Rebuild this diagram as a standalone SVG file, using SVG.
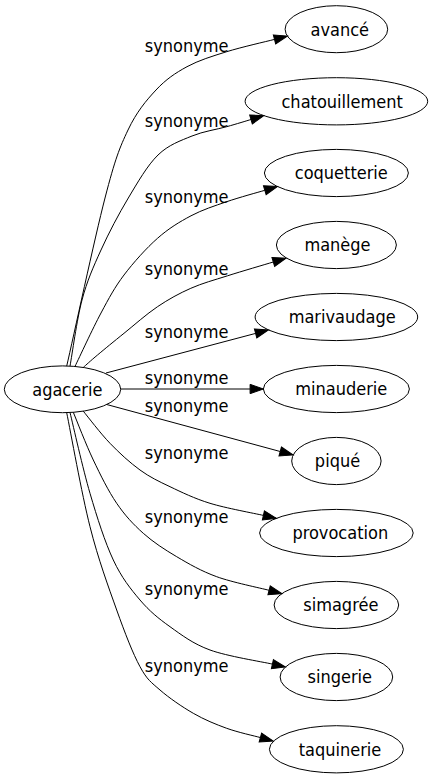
<svg xmlns="http://www.w3.org/2000/svg" width="433" height="779" viewBox="0 0 433 779">
<style>
  .node ellipse { fill: none; stroke: #000; stroke-width: 1; }
  .node text { font-family: 'DejaVu Sans Condensed', 'DejaVu Sans', sans-serif; font-stretch: condensed; font-size: 18px; fill: #000; text-anchor: middle; }
  .edges path { fill: none; stroke: #000; stroke-width: 1; marker-end: url(#arrow); }
  .edges text { font-family: 'DejaVu Sans Condensed', 'DejaVu Sans', sans-serif; font-stretch: condensed; font-size: 18px; fill: #000; text-anchor: middle; }
</style>
<defs>
  <marker id="arrow" markerUnits="userSpaceOnUse" markerWidth="14" markerHeight="10" viewBox="0 0 14 10" refX="0.5" refY="5" orient="auto" overflow="visible">
    <path d="M0.5,0.35 L13.8,5 L0.5,9.65 z" fill="#000" stroke="#000" stroke-width="1"/>
  </marker>
</defs>
<rect width="433" height="779" fill="#fff"/>
<g id="edges" class="edges">
  <path d="M66.7,366.1 C73.08,338.58 94.78,237.45 105,198 C115.22,158.55 119.5,148 128,130 C136.5,112 146.17,100.55 156,90 C165.83,79.45 175.22,73.08 187,66.7 C198.78,60.32 212.12,56.25 226.7,51.7 C241.28,47.15 266.53,41.45 274.5,39.4"/>
  <text x="186.7" y="51.7">synonyme</text>
  <path d="M70,366.1 C72,355.4 76.83,319.42 82,300 C87.17,280.58 93.28,267 101,250 C108.72,233 118.8,213.83 128.3,198 C137.8,182.17 147.38,165.33 158,155 C168.62,144.67 180.55,140.72 192,136 C203.45,131.28 216.87,129.45 226.7,126.7 C236.53,123.95 246.95,120.7 251,119.5"/>
  <text x="186.7" y="127.3">synonyme</text>
  <path d="M75,366.4 C79.33,357.5 92.83,328.23 101,313 C109.17,297.77 114.58,287.45 124,275 C133.42,262.55 146.33,248.17 157.5,238.3 C168.67,228.43 179.47,221.9 191,215.8 C202.53,209.7 214.4,205.95 226.7,201.7 C239,197.45 258.45,192.2 264.8,190.3"/>
  <text x="186.7" y="203.3">synonyme</text>
  <path d="M83.3,367.4 C85.67,365.33 90.72,360.68 97.5,355 C104.28,349.32 114,341.35 124,333.3 C134,325.25 146.37,314.2 157.5,306.7 C168.63,299.2 179.13,293.45 190.8,288.3 C202.47,283.15 213.75,280.18 227.5,275.8 C241.25,271.42 265.67,264.3 273.3,262"/>
  <text x="186.7" y="275">synonyme</text>
  <path d="M106,373 L255.6,333.4"/>
  <text x="186.7" y="337.5">synonyme</text>
  <path d="M120.7,389 L250.1,389"/>
  <text x="186.7" y="384.3">synonyme</text>
  <path d="M106.7,404.5 L280.2,451.5"/>
  <text x="186.7" y="412">synonyme</text>
  <path d="M83.3,411.2 C87.75,416.55 100.55,433.5 110,443.3 C119.45,453.1 130,462.77 140,470 C150,477.23 158.33,481.15 170,486.7 C181.67,492.25 194.43,498.52 210,503.3 C225.57,508.08 254.5,513.38 263.4,515.4"/>
  <text x="186.7" y="458.7">synonyme</text>
  <path d="M73.3,412.3 C76.63,420.25 86.07,444.83 93.3,460 C100.53,475.17 108.37,491.08 116.7,503.3 C125.03,515.52 133.3,524.4 143.3,533.3 C153.3,542.2 164.47,549.47 176.7,556.7 C188.93,563.93 201.3,571.1 216.7,576.7 C232.1,582.3 260.37,588.03 269.1,590.3"/>
  <text x="186.7" y="523.3">synonyme</text>
  <path d="M70,412.5 C73.33,425.97 82.78,468.72 90,493.3 C97.22,517.88 104.97,542.22 113.3,560 C121.63,577.78 130.55,588.88 140,600 C149.45,611.12 158.33,618.37 170,626.7 C181.67,635.03 192.93,643.77 210,650 C227.07,656.23 262,661.75 272.4,664.1"/>
  <text x="186.7" y="595">synonyme</text>
  <path d="M66.7,412.7 C70.58,431.7 81.67,493.82 90,526.7 C98.33,559.58 108.37,586.67 116.7,610 C125.03,633.33 132.78,653.37 140,666.7 C147.22,680.03 151.12,682.23 160,690 C168.88,697.77 182.18,706.92 193.3,713.3 C204.42,719.68 215.52,724.26 226.7,728.3 C237.88,732.34 254.78,736.01 260.4,737.55"/>
  <text x="186.7" y="671.7">synonyme</text>
</g>
<g id="node-agacerie" class="node">
  <ellipse cx="62.5" cy="389.3" rx="58.2" ry="23.4"/>
  <text x="67.3" y="395.6">agacerie</text>
</g>
<g id="node-avance" class="node">
  <ellipse cx="336.4" cy="29.2" rx="51.3" ry="23.5"/>
  <text x="339.8" y="35.5">avancé</text>
</g>
<g id="node-chatouillement" class="node">
  <ellipse cx="336.4" cy="101.3" rx="91.3" ry="23.6"/>
  <text x="342.2" y="107.6">chatouillement</text>
</g>
<g id="node-coquetterie" class="node">
  <ellipse cx="336.4" cy="173" rx="72" ry="23.6"/>
  <text x="341.3" y="179.3">coquetterie</text>
</g>
<g id="node-manege" class="node">
  <ellipse cx="336.4" cy="245" rx="60" ry="23.6"/>
  <text x="337.5" y="251.3">manège</text>
</g>
<g id="node-marivaudage" class="node">
  <ellipse cx="336.4" cy="317" rx="81.3" ry="23.6"/>
  <text x="342.2" y="323.3">marivaudage</text>
</g>
<g id="node-minauderie" class="node">
  <ellipse cx="336.4" cy="389" rx="73" ry="23.6"/>
  <text x="341.3" y="395.3">minauderie</text>
</g>
<g id="node-pique" class="node">
  <ellipse cx="336.4" cy="461" rx="44.7" ry="23.6"/>
  <text x="337.5" y="467.3">piqué</text>
</g>
<g id="node-provocation" class="node">
  <ellipse cx="336.4" cy="533" rx="76.8" ry="23.6"/>
  <text x="340.3" y="539.3">provocation</text>
</g>
<g id="node-simagree" class="node">
  <ellipse cx="336.4" cy="605" rx="62.3" ry="23.6"/>
  <text x="340.8" y="611.3">simagrée</text>
</g>
<g id="node-singerie" class="node">
  <ellipse cx="336.4" cy="677" rx="56.3" ry="23.6"/>
  <text x="339.8" y="683.3">singerie</text>
</g>
<g id="node-taquinerie" class="node">
  <ellipse cx="336.4" cy="749.3" rx="67" ry="23.6"/>
  <text x="340" y="755.6">taquinerie</text>
</g>
</svg>
